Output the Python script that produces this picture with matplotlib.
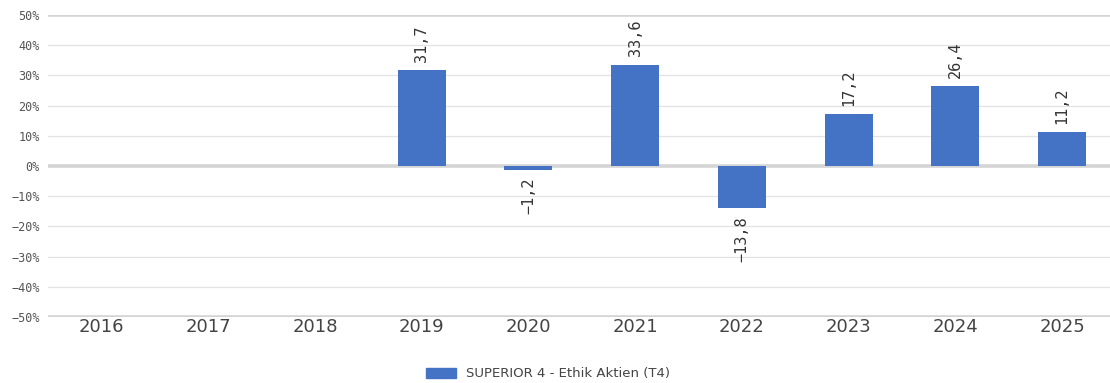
import matplotlib.pyplot as plt
import matplotlib.patches as mpatches
import numpy as np

# --- DATA ---
years = ['2016', '2017', '2018', '2019', '2020', '2021', '2022', '2023', '2024', '2025']
returns = [None, None, None, 31.7, -1.2, 33.6, -13.8, 17.2, 26.4, 11.2]
y_ticks = [50, 40, 30, 20, 10, 0, -10, -20, -30, -40, -50]
series_name = 'SUPERIOR 4 - Ethik Aktien (T4)'

BAR_COLOR = '#4472c4'

fig = plt.figure(figsize=(11.1, 3.83), dpi=100)
ax = fig.add_axes([48 / 1110, 1 - 317 / 383, 1 - 48 / 1110 + 0.005, (317 - 15) / 383])

x = np.arange(len(years))
for xi, val in zip(x, returns):
    if val is None:
        continue
    ax.bar(xi, val, width=0.45, color=BAR_COLOR, zorder=3)
    label = f'{val:.1f}'.replace('.', ',').replace('-', '\u2212')
    off = 6 if val >= 0 else -6
    ax.annotate(label, (xi, val), xytext=(0, off), textcoords='offset points',
                rotation=90, ha='center', va='bottom' if val >= 0 else 'top',
                fontsize=11, color='#333333', family='DejaVu Sans Mono')

# --- GRID ---
for t in y_ticks:
    if t in (50, 0, -50):
        ax.axhline(t, color='#d4d4d4', lw=2.6, zorder=1)
    else:
        ax.axhline(t, color='#e3e3e3', lw=0.9, zorder=1)

ax.set_ylim(-50, 50)
ax.set_xlim(-0.5, len(years) - 0.5)
ax.set_yticks(y_ticks)
ax.set_yticklabels([f'{t}%'.replace('-', '\u2212') for t in y_ticks],
                   family='DejaVu Sans Mono', fontsize=8.5, color='#555555')
ax.set_xticks(x)
ax.set_xticklabels(years, fontsize=13, color='#444444')
ax.tick_params(axis='both', length=0)
ax.tick_params(axis='y', pad=6)
ax.tick_params(axis='x', pad=1)
for s in ax.spines.values():
    s.set_visible(False)

handle = mpatches.Patch(color=BAR_COLOR, label=series_name)
fig.legend(handles=[handle], loc='center', bbox_to_anchor=(548 / 1110, 1 - 374 / 383),
           frameon=False, fontsize=9.5, handlelength=2.3, handleheight=0.8,
           labelcolor='#444444')

fig.savefig('out.png', dpi=100)
